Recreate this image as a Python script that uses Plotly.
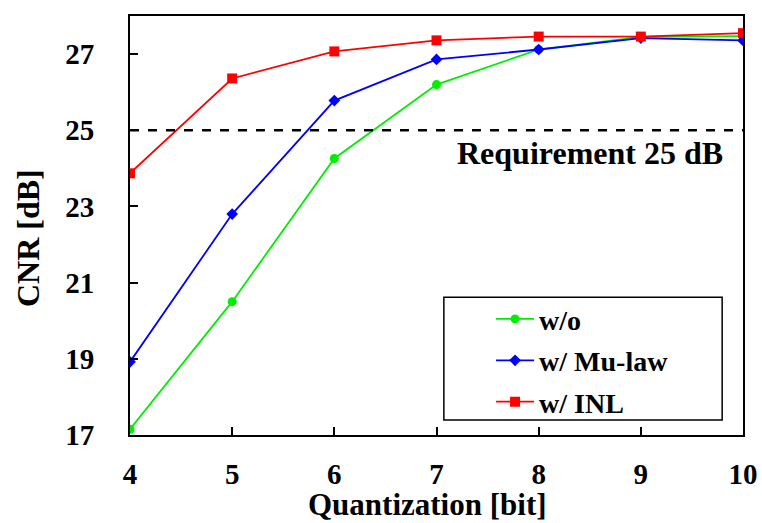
import plotly.graph_objects as go

bits = [4, 5, 6, 7, 8, 9, 10]
cnr_wo = [17.15, 20.5, 24.26, 26.2, 27.12, 27.45, 27.47]
cnr_mulaw = [18.92, 22.8, 25.78, 26.86, 27.12, 27.42, 27.36]
cnr_inl = [23.87, 26.36, 27.07, 27.36, 27.46, 27.46, 27.55]
requirement = 25
y_ticks = [17, 19, 21, 23, 25, 27]

FONT = "Times New Roman, Liberation Serif, serif"

fig = go.Figure()
fig.add_trace(go.Scatter(x=bits, y=cnr_wo, name="<b>w/o</b>", mode="lines+markers",
                         line=dict(color="#00ee00", width=1.8),
                         marker=dict(symbol="circle", size=9, color="#00ee00"),
                         legendgroup="a"))
fig.add_trace(go.Scatter(x=bits, y=cnr_mulaw, name="<b>w/ Mu-law</b>", mode="lines+markers",
                         line=dict(color="#0000ff", width=1.8),
                         marker=dict(symbol="diamond", size=9, color="#0000ff"),
                         legendgroup="b"))
fig.add_trace(go.Scatter(x=bits, y=cnr_inl, name="<b>w/ INL</b>", mode="lines+markers",
                         line=dict(color="#ff0000", width=1.8),
                         marker=dict(symbol="square", size=10, color="#ff0000"),
                         legendgroup="c"))

fig.add_shape(type="line", x0=bits[0], x1=bits[-1], y0=requirement, y1=requirement,
              xref="x", yref="y", line=dict(color="black", width=2.5, dash="dash"))
fig.add_annotation(x=9.824, y=requirement, xref="x", yref="y", xanchor="right", yanchor="top",
                   yshift=-3, text=f"<b>Requirement {requirement} dB</b>", showarrow=False,
                   font=dict(family=FONT, size=32, color="black"))

# axis titles
fig.add_annotation(x=-0.1664, y=0.470, xref="paper", yref="paper", xanchor="center", yanchor="middle",
                   text="<b>CNR [dB]</b>", textangle=-90, showarrow=False,
                   font=dict(family=FONT, size=32, color="black"))
fig.add_annotation(x=0.4853, y=-0.166, xref="paper", yref="paper", xanchor="center", yanchor="middle",
                   text="<b>Quantization [bit]</b>", showarrow=False,
                   font=dict(family=FONT, size=31, color="black"))

# legend frame
fig.add_shape(type="rect", xref="paper", yref="paper", x0=0.512, x1=0.966, y0=0.036, y1=0.329,
              line=dict(color="black", width=1.5), fillcolor="rgba(0,0,0,0)")

fig.update_layout(
    width=762, height=523,
    margin=dict(l=130, r=19, t=16, b=88, autoexpand=False),
    paper_bgcolor="white", plot_bgcolor="white",
    font=dict(family=FONT, color="black"),
    showlegend=True,
    legend=dict(x=0.589, y=0.336, xanchor="left", yanchor="top",
                borderwidth=0, bgcolor="rgba(0,0,0,0)",
                font=dict(family=FONT, size=28, color="black"),
                tracegroupgap=2, itemwidth=38),
    xaxis=dict(range=[4, 10], tickvals=bits, ticktext=[f"<b>{b}</b>" for b in bits],
               showgrid=False, zeroline=False, showline=True, linecolor="black", linewidth=2,
               mirror=True, ticks="inside", ticklen=8, tickwidth=2, tickcolor="black",
               ticklabelstandoff=12, automargin=False, ticklabeloverflow="allow",
               tickfont=dict(family=FONT, size=29, color="black")),
    yaxis=dict(range=[17, 28], tickvals=y_ticks, ticktext=[f"<b>{t}</b>" for t in y_ticks],
               showgrid=False, zeroline=False, showline=True, linecolor="black", linewidth=2,
               mirror=True, ticks="inside", ticklen=8, tickwidth=2, tickcolor="black",
               ticklabelstandoff=28, automargin=False, ticklabeloverflow="allow",
               tickfont=dict(family=FONT, size=29, color="black")),
)

fig.write_html("out.html", config={"displayModeBar": False},
               post_script="document.body.style.margin='0px';document.body.style.overflow='hidden';")
